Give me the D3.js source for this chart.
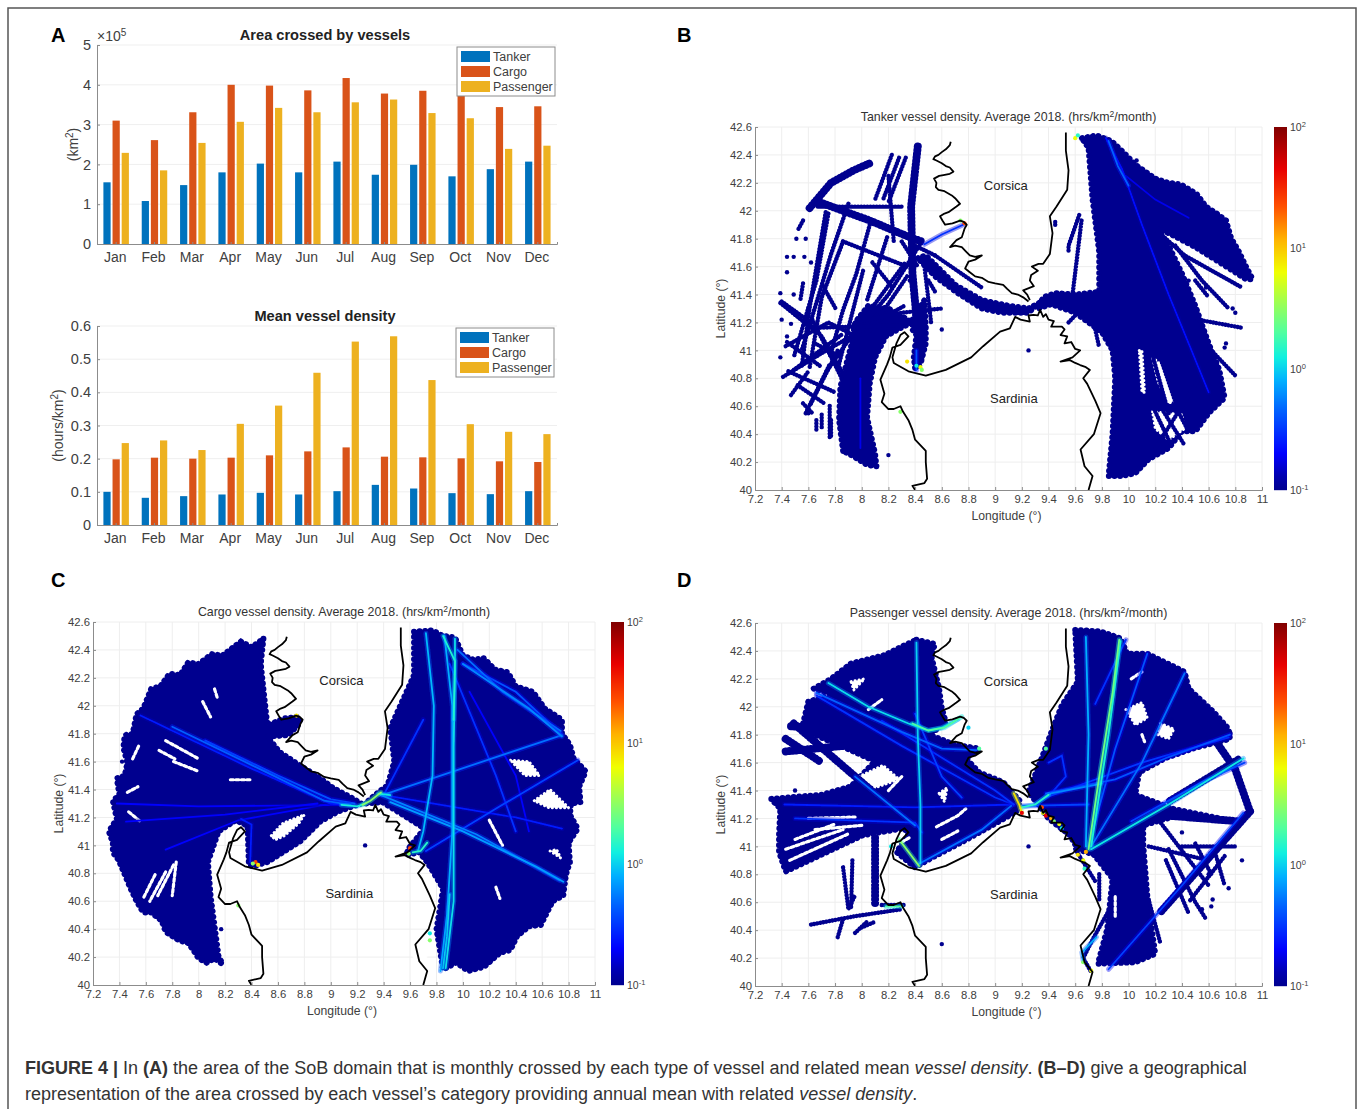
<!DOCTYPE html>
<html>
<head>
<meta charset="utf-8">
<script src="https://cdn.jsdelivr.net/npm/d3@7"></script>
<style>
  html, body { margin: 0; padding: 0; background: #fff; }
  svg { display: block; font-family: "Liberation Sans", sans-serif; }
  .axis path { stroke: #8c8c8c; fill: none; }
  .axis line { stroke: #8c8c8c; }
  .axis text { fill: #404040; stroke: none; }
</style>
</head>
<body>
<div id="vis"></div>
<script>
const FRAME_WIDTH = 1357;
const FRAME_HEIGHT = 1109;

// bar chart data
const MONTHS = ["Jan", "Feb", "Mar", "Apr", "May", "Jun", "Jul", "Aug", "Sep", "Oct", "Nov", "Dec"];
const SERIES = ["Tanker", "Cargo", "Passenger"];
const SERIES_COLORS = ["#0072BD", "#D95319", "#EDB120"];

const AREA_TANKER = [1.55, 1.08, 1.48, 1.80, 2.02, 1.80, 2.07, 1.74, 1.99, 1.70, 1.88, 2.07];
const AREA_CARGO = [3.10, 2.61, 3.31, 4.00, 3.98, 3.86, 4.17, 3.78, 3.85, 3.90, 3.44, 3.46];
const AREA_PASSENGER = [2.29, 1.85, 2.54, 3.07, 3.42, 3.31, 3.56, 3.63, 3.29, 3.16, 2.39, 2.47];

const DENSITY_TANKER = [0.100, 0.082, 0.087, 0.092, 0.097, 0.092, 0.102, 0.121, 0.110, 0.096, 0.093, 0.102];
const DENSITY_CARGO = [0.198, 0.203, 0.200, 0.203, 0.210, 0.222, 0.234, 0.206, 0.204, 0.201, 0.192, 0.190];
const DENSITY_PASSENGER = [0.247, 0.255, 0.226, 0.305, 0.360, 0.459, 0.553, 0.569, 0.437, 0.304, 0.281, 0.274];

const AREA_TICKS = [0, 1, 2, 3, 4, 5];
const DENSITY_TICKS = [0, 0.1, 0.2, 0.3, 0.4, 0.5, 0.6];

// map axes
const LON_TICKS = [7.2, 7.4, 7.6, 7.8, 8, 8.2, 8.4, 8.6, 8.8, 9, 9.2, 9.4, 9.6, 9.8, 10, 10.2, 10.4, 10.6, 10.8, 11];
const LAT_TICKS = [40, 40.2, 40.4, 40.6, 40.8, 41, 41.2, 41.4, 41.6, 41.8, 42, 42.2, 42.4, 42.6];
const COLORBAR_EXPONENTS = [-1, 0, 1, 2];
const JET_VALUES = [0.1, 0.13, 0.2, 0.45, 0.8, 1.25, 2, 3.6, 6.3, 12, 22, 45, 100];
const JET_COLORS = ["#00008f", "#0000b0", "#0000ff", "#0060ff", "#00b0ff", "#10f0e0", "#50ffa0", "#a0ff50", "#f0ff00", "#ffb000", "#ff5000", "#e80000", "#800000"];

// coastlines, lon/lat
const COAST_CORSICA_WEST = [[8.667,42.495],[8.66,42.47],[8.65,42.46],[8.63,42.44],[8.6,42.42],[8.575,42.4],[8.55,42.39],[8.537,42.37],[8.56,42.36],[8.6,42.34],[8.63,42.32],[8.66,42.31],[8.687,42.28],[8.66,42.265],[8.612,42.256],[8.58,42.25],[8.542,42.23],[8.56,42.2],[8.555,42.17],[8.575,42.15],[8.62,42.14],[8.675,42.11],[8.70,42.09],[8.737,42.05],[8.71,42.03],[8.65,41.99],[8.62,41.98],[8.587,41.96],[8.605,41.93],[8.625,41.9],[8.68,41.91],[8.737,41.93],[8.765,41.92],[8.787,41.9],[8.77,41.87],[8.75,41.81],[8.71,41.79],[8.662,41.74],[8.7,41.75],[8.75,41.74],[8.78,41.71],[8.81,41.68],[8.85,41.67],[8.9,41.68],[8.85,41.65],[8.8,41.635],[8.775,41.587],[8.81,41.56],[8.85,41.53],[8.9,41.52],[8.95,41.49],[9,41.48],[9.06,41.47],[9.09,41.44],[9.125,41.41],[9.17,41.4],[9.21,41.38],[9.25,41.35]];
const COAST_CORSICA_EAST = [[9.53,42.56],[9.53,42.43],[9.55,42.29],[9.54,42.15],[9.46,42.03],[9.41,41.96],[9.43,41.84],[9.41,41.69],[9.36,41.62],[9.325,41.62],[9.275,41.6],[9.32,41.57],[9.27,41.54],[9.26,41.5],[9.29,41.46],[9.21,41.43],[9.24,41.4],[9.26,41.36]];
const COAST_SARDINIA = [[8.4,40],[8.38,40.03],[8.47,40.05],[8.49,40.08],[8.48,40.2],[8.48,40.28],[8.4,40.36],[8.38,40.43],[8.35,40.5],[8.31,40.56],[8.29,40.6],[8.24,40.58],[8.2,40.58],[8.15,40.63],[8.17,40.69],[8.14,40.79],[8.19,40.9],[8.21,40.95],[8.23,41.02],[8.29,41.04],[8.35,41.1],[8.32,41.13],[8.29,41.11],[8.26,41.05],[8.23,40.95],[8.24,40.91],[8.35,40.85],[8.48,40.82],[8.63,40.86],[8.82,40.95],[8.91,41.03],[9.037,41.134],[9.11,41.158],[9.15,41.24],[9.19,41.22],[9.26,41.206],[9.25,41.25],[9.287,41.254],[9.32,41.25],[9.337,41.29],[9.36,41.24],[9.38,41.26],[9.4,41.22],[9.44,41.21],[9.42,41.17],[9.46,41.17],[9.5,41.17],[9.52,41.15],[9.49,41.11],[9.54,41.1],[9.52,41.05],[9.57,41.06],[9.6,41.01],[9.637,41],[9.58,40.95],[9.49,40.92],[9.56,40.93],[9.6,40.91],[9.637,40.895],[9.68,40.88],[9.71,40.86],[9.66,40.8],[9.69,40.76],[9.75,40.64],[9.79,40.55],[9.74,40.4],[9.64,40.29],[9.67,40.17],[9.73,40.1],[9.7,40]];
const COASTS = [COAST_CORSICA_WEST, COAST_CORSICA_EAST, COAST_SARDINIA];

// tanker map: filled areas, white gaps, tracks and brighter routes
const TANKER_AREAS = [
  [[9.65,42.52],[9.76,42.54],[9.87,42.5],[9.96,42.42],[10.05,42.33],[10.2,42.23],[10.3,42.2],[10.39,42.19],[10.51,42.12],[10.58,42.03],[10.66,41.98],[10.73,41.93],[10.77,41.8],[10.82,41.72],[10.88,41.6],[10.93,41.51],[10.88,41.51],[10.7,41.62],[10.5,41.74],[10.3,41.84],[10.22,41.87],[10.3,41.75],[10.4,41.55],[10.5,41.32],[10.6,41.05],[10.68,40.86],[10.72,40.66],[10.6,40.55],[10.5,40.42],[10.4,40.42],[10.3,40.3],[10.15,40.22],[10.05,40.12],[9.95,40.1],[9.85,40.1],[9.88,40.4],[9.9,40.8],[9.88,41],[9.8,41.13],[9.6,41.27],[9.42,41.33],[9.32,41.3],[9.36,41.38],[9.45,41.41],[9.6,41.4],[9.78,41.42],[9.78,41.7],[9.73,42.08],[9.7,42.45]],
  [[8.42,41.66],[8.48,41.68],[8.7,41.47],[8.9,41.36],[9.1,41.32],[9.25,41.3],[9.33,41.34],[9.25,41.27],[9.05,41.27],[8.9,41.3],[8.72,41.41],[8.55,41.53]],
  [[7.86,40.28],[7.83,40.5],[7.84,40.74],[7.92,41.03],[7.95,41.2],[8.05,41.32],[8.2,41.3],[8.38,41.2],[8.29,41.16],[8.18,41.1],[8.1,40.95],[8.06,40.76],[8.04,40.52],[8.1,40.26],[8.11,40.17],[8.04,40.18],[7.94,40.24]],
  [[8.38,41.22],[8.47,41.36],[8.48,41.17],[8.48,41.05],[8.44,40.9],[8.4,40.87],[8.39,40.95],[8.41,41.11],[8.38,41.15]]
];
const TANKER_GAPS = [
  [[10.08,41],[10.1,41],[10.12,40.7],[10.1,40.7]],
  [[10.18,40.95],[10.24,40.9],[10.34,40.64],[10.3,40.62],[10.22,40.78]],
  [[10.18,40.56],[10.4,40.54],[10.42,40.44],[10.3,40.36],[10.2,40.44]]
];
const TANKER_WIDE = [
  [[7.66,42.07],[8.06,41.93],[8.36,41.81],[8.45,41.78]],
  [[8.42,42.46],[8.37,42.03],[8.38,41.55],[8.44,40.93]],
  [[7.61,42.02],[7.77,42.2],[7.94,42.29],[8.06,42.34]]
];
const TANKER_TRACKS = [
  [[7.75,41.98],[7.66,41.5],[7.49,40.95]], [[7.9,42.05],[7.77,41.69],[7.66,41.34],[7.55,41]], [[8.06,41.9],[7.96,41.55],[7.86,41.29],[7.76,40.95]],
  [[8.225,42.4],[8.1,42.08]], [[8.28,42.38],[8.16,42.08]], [[8.33,42.38],[8.2,42.06]], [[8.19,41.81],[8.04,41.36]], [[8.34,41.53],[8.06,41.14]],
  [[7.86,41.78],[8.34,41.6]], [[7.71,41.46],[7.81,41.29]], [[7.4,41.35],[7.56,41.24],[7.7,41.1],[7.85,40.85]], [[7.56,41.93],[7.52,41.86]], [[7.56,41.48],[7.54,41.36]],
  [[8.32,41.62],[7.95,41.14],[7.73,40.84]], [[8.45,41.78],[8.2,41.4],[8,41.17]], [[7.41,40.81],[7.7,40.98],[8.32,41.32]], [[7.43,41.03],[7.75,41.2],[8,41.08]],
  [[7.62,40.62],[7.82,41]], [[7.52,40.75],[7.72,40.62]], [[7.58,40.55],[7.76,40.9]], [[7.76,40.38],[7.76,40.62]], [[7.7,40.45],[7.7,40.55]], [[7.47,40.68],[7.6,40.85]],
  [[7.67,42.03],[8.32,42.03]], [[7.95,41.2],[8.3,41.27],[8.6,41.3]], [[7.6,41.16],[8.3,41.18]], [[7.45,40.85],[7.8,40.7]], [[7.65,41.05],[7.85,40.95]], [[8.47,41.6],[8.52,41.2]],
  [[7.73,41.99],[7.61,41.31],[7.55,40.88]], [[7.86,41.78],[7.7,41.38],[7.61,40.88]], [[8.01,41.57],[7.83,40.9]], [[7.39,41.34],[7.61,41.17]], [[7.49,40.86],[7.86,41.12]], [[7.63,41.22],[7.85,40.8]],
  [[7.44,41.06],[7.7,40.88]], [[8.08,41.63],[8.24,41.44]], [[8.2,42.25],[8.24,41.78]], [[8.3,41.78],[8.42,41.6]], [[7.56,40.62],[7.63,40.55]], [[7.77,40.5],[7.77,40.37]], [[7.66,40.5],[7.66,40.42]],
  [[8.5,41.5],[8.55,41.42]], [[8.55,41.68],[8.9,41.45]], [[8.4,41.75],[8.55,41.68]], [[9.63,41.97],[9.55,41.75],[9.55,41.7]], [[9.58,41.4],[9.65,41.95]],
  [[9.55,41.2],[9.6,41.25]], [[9.75,41.15],[9.78,41.02]], [[10.52,41.22],[10.86,41.16]], [[10.22,41.85],[10.42,41.68],[10.85,41.45]], [[10.35,41.75],[10.55,41.5],[10.75,41.3]],
  [[10.5,41.5],[10.6,41.38]], [[10.62,41],[10.8,40.82]], [[10.6,40.9],[10.2,40.3]], [[10.18,40.6],[10.33,40.3]], [[10.25,40.58],[10.42,40.32]], [[10.35,40.6],[10.45,40.42]],
  [[10.22,41],[10.38,40.55]], [[10.17,41],[10.3,40.55]]
];
const TANKER_DOTS = [[7.44,41.67],[7.49,41.67],[7.57,41.67],[7.51,41.8],[7.44,41.56],[7.39,41.41],[7.49,41.4],[7.4,41.22],[7.47,41.19],[7.44,41.1],[7.62,41.63],[7.39,40.95],[7.6,41.3],[7.6,40.55],[7.58,41.8],[8.2,40.25],[8.36,41.5],[8.6,41.55],[8.6,41.15],[9.45,41.9],[9.45,41.92],[9.25,41],[10.06,42.36],[10.72,41.02],[10.73,41.05],[10.8,41.27],[10.78,41.3],[10.45,41.5],[10.58,41.45]];
const TANKER_ROUTES = [
  { density: 0.22, path: [[9.83,42.52],[9.95,42.3],[10.1,41.9],[10.3,41.4],[10.6,40.7]] },
  { density: 0.45, path: [[9.85,42.5],[9.92,42.32],[10,42.18]] },
  { density: 0.18, path: [[9.98,42.25],[10.2,42.08],[10.45,41.95]] },
  { density: 0.3, path: [[8.47,41.76],[8.6,41.83],[8.76,41.9]] },
  { density: 0.4, path: [[8.41,41],[8.41,40.86]] },
  { density: 0.18, path: [[7.99,40.8],[7.99,40.3]] }
];
const TANKER_SPOTS = [
  { density: 6, at: [8.44,40.88] }, { density: 1.2, at: [8.41,40.89] }, { density: 3, at: [8.45,40.86] }, { density: 25, at: [8.77,41.91] },
  { density: 3, at: [8.74,41.93] }, { density: 6, at: [9.6,42.52] }, { density: 1.5, at: [9.62,42.54] }, { density: 3, at: [8.29,40.56] }, { density: 8, at: [8.34,40.92] }
];

// cargo map
const CARGO_AREAS = [
  [[8.49,42.48],[8.47,42.3],[8.49,42.12],[8.52,41.86],[8.65,41.91],[8.75,41.92],[8.77,41.88],[8.68,41.79],[8.52,41.78],[8.61,41.67],[8.77,41.57],[8.89,41.5],[9.02,41.41],[9.16,41.34],[9.23,41.3],[9.05,41.24],[8.92,41.17],[8.77,41.03],[8.52,40.88],[8.41,40.85],[8.38,40.86],[8.37,41.14],[8.28,41.18],[8.15,41.1],[8.07,40.88],[8.09,40.64],[8.15,40.21],[8.18,40.15],[8.12,40.19],[8.06,40.16],[8,40.19],[7.96,40.25],[7.92,40.3],[7.85,40.32],[7.75,40.38],[7.72,40.46],[7.64,40.52],[7.58,40.52],[7.53,40.6],[7.48,40.7],[7.41,40.86],[7.39,40.9],[7.35,40.95],[7.35,41.02],[7.32,41.1],[7.38,41.19],[7.35,41.32],[7.4,41.36],[7.38,41.48],[7.44,41.5],[7.46,41.59],[7.43,41.7],[7.44,41.79],[7.5,41.8],[7.53,41.94],[7.58,41.98],[7.64,42.12],[7.71,42.14],[7.78,42.23],[7.86,42.22],[7.92,42.31],[8,42.3],[8.1,42.37],[8.18,42.36],[8.32,42.46],[8.4,42.42]],
  [[9.63,42.53],[9.77,42.54],[9.85,42.5],[9.94,42.49],[10,42.36],[10.08,42.33],[10.16,42.34],[10.24,42.26],[10.34,42.24],[10.4,42.14],[10.53,42.1],[10.62,41.98],[10.75,41.9],[10.75,41.8],[10.81,41.72],[10.84,41.62],[10.93,41.53],[10.88,41.42],[10.89,41.31],[10.82,41.3],[10.81,41.22],[10.87,41.12],[10.8,41.02],[10.81,40.88],[10.78,40.79],[10.76,40.64],[10.68,40.6],[10.59,40.43],[10.5,40.42],[10.41,40.35],[10.36,40.25],[10.28,40.23],[10.16,40.13],[10.04,40.1],[9.95,40.16],[9.85,40.11],[9.8,40.4],[9.85,40.69],[9.73,40.88],[9.67,40.95],[9.57,40.93],[9.59,40.98],[9.71,41.12],[9.51,41.24],[9.39,41.31],[9.26,41.3],[9.36,41.38],[9.43,41.43],[9.48,41.6],[9.45,41.84],[9.54,42.03],[9.63,42.22]]
];
const CARGO_GAPS = [
  [[8.55,41.07],[8.64,41.16],[8.8,41.22],[8.76,41.16],[8.65,41.07],[8.58,41.04]],
  [[10.36,41.61],[10.5,41.6],[10.58,41.5],[10.47,41.5]],
  [[10.54,41.32],[10.66,41.4],[10.8,41.27],[10.65,41.27]],
  [[10.66,40.96],[10.74,40.91],[10.71,40.97]],
  [[9.62,40.38],[9.7,40.32],[9.74,40.14],[9.67,40.1],[9.63,40.2]]
];
const CARGO_CUTS = [
  [[7.75,41.75],[8,41.62]], [[7.81,41.6],[8,41.53]], [[7.7,41.68],[7.82,41.62]], [[7.47,41.24],[7.56,41.17]], [[7.46,41.38],[7.54,41.42]], [[8.03,42.03],[8.09,41.92]], [[8.12,42.12],[8.14,42.06]],
  [[7.81,40.86],[7.69,40.64]], [[7.75,40.81],[7.63,40.6]], [[7.67,40.79],[7.58,40.62]], [[7.83,40.88],[7.8,40.64]], [[8.24,41.47],[8.4,41.47]], [[7.5,41.62],[7.55,41.72]], [[10.2,41.18],[10.3,41]], [[10.25,40.7],[10.28,40.62]]
];
const CARGO_DOTS = [[8.49,42.48],[7.42,41.6],[8.17,40.4],[9.83,40.4],[9.26,41]];
const CARGO_ROUTES = [
  { density: 0.25, path: [[7.56,41.93],[8.4,41.55],[9,41.3],[9.15,41.29]] },
  { density: 0.45, path: [[7.8,41.85],[8.5,41.53],[8.95,41.32],[9.15,41.29]] },
  { density: 0.4, path: [[8.05,41.75],[8.6,41.5],[9,41.33],[9.18,41.3]] },
  { density: 0.2, path: [[7.75,40.97],[8.3,41.18],[8.95,41.29],[9.15,41.29]] },
  { density: 0.2, path: [[7.38,41.3],[8,41.28],[9.15,41.29]] },
  { density: 0.2, path: [[7.45,41.17],[8.2,41.22],[8.9,41.3]] },
  { density: 0.25, path: [[8.32,41.19],[8.4,41.15],[8.39,40.88]] },
  { density: 0.5, path: [[9.39,41.36],[10.75,41.79]] },
  { density: 0.35, path: [[9.72,40.96],[10.28,41.28],[10.87,41.61]] },
  { density: 0.6, path: [[9.38,41.36],[10.1,41.08],[10.73,40.75]] },
  { density: 0.7, path: [[9.45,41.31],[10,41.1],[10.55,40.85],[10.76,40.74]] },
  { density: 0.3, path: [[9.4,41.36],[9.7,41.9]] },
  { density: 0.25, path: [[9.4,41.36],[10.4,41.2],[10.75,41.12]] },
  { density: 0.4, path: [[10,42.3],[10.4,42.1],[10.74,41.8]] },
  { density: 0.5, path: [[9.96,42.4],[10.3,42.1],[10.74,41.82]] },
  { density: 0.6, path: [[10,42.3],[10.5,41.98],[10.75,41.78]] },
  { density: 0.3, path: [[9.9,42.3],[10.25,41.5],[10.4,41.1]] },
  { density: 0.2, path: [[10.05,42.1],[10.4,41.5],[10.5,41.1]] },
  { density: 0.85, path: [[9.72,42.52],[9.78,42],[9.77,41.5],[9.7,41.1],[9.66,40.96]] },
  { density: 1.1, path: [[9.94,42.48],[9.94,42.25],[9.93,41.7],[9.93,41],[9.93,40.6],[9.87,40.12]] },
  { density: 1.4, path: [[9.85,42.5],[9.94,42.32],[9.93,41.9]] },
  { density: 0.8, path: [[9.86,42.5],[9.92,42],[9.92,41.1],[9.88,40.5],[9.83,40.1]] },
  { density: 1, path: [[9.9,40.65],[9.88,40.35],[9.85,40.12]] },
  { density: 1.3, path: [[9.08,41.29],[9.2,41.28],[9.26,41.3]] },
  { density: 3, path: [[9.24,41.29],[9.3,41.32],[9.38,41.38]] },
  { density: 1.2, path: [[9.36,41.37],[9.45,41.36]] },
  { density: 1.5, path: [[9.62,40.95],[9.68,40.96],[9.73,41.02]] }
];
const CARGO_SPOTS = [
  { density: 25, at: [8.43,40.88] }, { density: 8, at: [8.45,40.86] }, { density: 3, at: [8.41,40.87] }, { density: 8, at: [8.74,41.93] }, { density: 3, at: [8.3,40.57] },
  { density: 25, at: [9.6,40.98] }, { density: 3, at: [9.59,40.94] }, { density: 1.2, at: [9.75,40.37] }, { density: 3, at: [9.75,40.32] }
];

// passenger map
const PASSENGER_AREAS = [
  [[8.41,42.48],[8.55,42.45],[8.52,42.37],[8.58,42.13],[8.6,41.99],[8.63,41.89],[8.51,41.8],[8.69,41.73],[8.88,41.7],[8.78,41.63],[8.88,41.53],[9.06,41.46],[9.19,41.32],[9.16,41.25],[8.94,41.13],[8.75,41.03],[8.51,40.91],[8.4,40.85],[8.26,40.96],[8.35,41.08],[8.32,41.13],[8.01,41.08],[7.43,40.82],[7.38,40.96],[7.38,41.08],[7.39,41.27],[7.32,41.34],[7.7,41.37],[7.92,41.43],[8.1,41.61],[7.89,41.7],[7.55,41.84],[7.6,42.04],[7.8,42.08],[7.64,42.13],[7.77,42.2],[7.92,42.31],[8.17,42.37],[8.32,42.44]],
  [[9.6,42.55],[9.79,42.54],[9.94,42.49],[9.99,42.38],[10.14,42.38],[10.27,42.32],[10.42,42.25],[10.45,42.13],[10.64,41.96],[10.75,41.84],[10.76,41.77],[10.48,41.7],[10.27,41.63],[10.08,41.53],[10.05,41.37],[10.33,41.27],[10.79,41.18],[10.36,41.22],[10.11,41.15],[10.11,41.01],[10.14,40.65],[10.2,40.23],[10.05,40.17],[9.77,40.16],[9.84,40.41],[9.88,40.77],[9.74,40.94],[9.62,40.98],[9.56,41.08],[9.4,41.2],[9.25,41.39],[9.34,41.61],[9.43,41.84],[9.5,42.01],[9.62,42.18]]
];
const PASSENGER_GAPS = [
  [[8.58,41.38],[8.64,41.42],[8.62,41.32]], [[7.98,41.5],[8.16,41.58],[8.28,41.48],[8.1,41.42]],
  [[9.98,41.98],[10.1,42.03],[10.14,41.92],[10.05,41.87]], [[10.24,41.88],[10.34,41.84],[10.3,41.77],[10.22,41.8]], [[7.92,42.18],[8.02,42.2],[7.94,42.12]]
];
const PASSENGER_CUTS = [
  [[7.46,40.9],[7.9,41.09]], [[7.43,40.98],[7.86,41.12]], [[7.5,41.05],[7.8,41.16]], [[8.56,41.14],[8.72,41.22],[8.78,41.27]], [[8.6,41.05],[8.72,41.11]], [[8.3,41.03],[8.37,41.07]], [[7.6,41.2],[7.95,41.21]],
  [[7.65,41.12],[8,41.15]], [[8.3,41.5],[8.2,41.4]], [[10.1,41.8],[10.12,41.75]], [[10.02,42.2],[10.1,42.25]], [[9.9,40.5],[9.9,40.65]], [[8.05,41.98],[8.15,42.05]]
];
const PASSENGER_WIDE = [
  [[10.42,42.08],[10.8,41.55],[10.91,41.25]], [[10.91,41.25],[10.24,40.53]], [[10.75,41.81],[9.99,41.58],[9.4,41.39]], [[10.82,41.62],[10.3,41.32]],
  [[7.49,41.88],[8.23,41.27]], [[7.43,41.77],[7.7,41.6]], [[7.47,41.86],[7.97,41.83]], [[7.43,41.68],[7.97,41.73]], [[8.1,41.06],[8.1,40.58]], [[10.3,41.22],[10.82,41.18]]
];
const PASSENGER_TRACKS = [
  [[10.72,40.93],[10.45,40.6]], [[10.3,40.98],[10.5,40.6],[10.58,40.48]], [[10.4,41],[10.8,41]], [[10.15,41],[10.6,40.9]], [[10.28,40.9],[10.45,40.52]], [[10.65,40.95],[10.72,40.72]], [[10.2,41.22],[10.6,40.72]], [[10.15,40.62],[10.24,40.3]],
  [[7.93,40.9],[7.92,40.55]], [[7.86,40.85],[7.9,40.55],[7.95,40.65]], [[8.15,40.58],[8.32,40.58]], [[7.62,40.44],[7.95,40.5],[8.3,40.55]], [[7.82,40.35],[7.86,40.48]], [[7.95,40.38],[8.05,40.47]], [[8,40.42],[8.1,40.46]],
  [[9.84,40.52],[9.74,40.35],[9.66,40.2],[9.72,40.1]], [[9.78,40.8],[9.78,40.62]], [[9.6,40.98],[9.75,40.75]], [[10.5,41.02],[10.62,40.8]]
];
const PASSENGER_DOTS = [[7.5,41.4],[7.85,41.73],[8.6,40.3],[9.25,41],[10.85,40.9],[10.63,40.62],[10.62,40.57],[10.9,41.25],[10.4,41.1],[10.75,40.7],[10.55,40.55],[10.6,40.8]];
const PASSENGER_ROUTES = [
  { density: 1.1, path: [[7.75,42.17],[8.05,42],[8.35,41.88],[8.5,41.83],[8.6,41.85],[8.72,41.91]] },
  { density: 2, path: [[8.38,41.88],[8.5,41.83],[8.62,41.85],[8.75,41.93]] },
  { density: 0.45, path: [[7.66,42.1],[8.3,41.82],[8.6,41.7],[8.86,41.69]] },
  { density: 0.3, path: [[7.66,42.08],[8.3,41.72],[9,41.35],[9.14,41.3]] },
  { density: 0.3, path: [[8.15,41.9],[9,41.4],[9.14,41.3]] },
  { density: 1, path: [[8.41,42.46],[8.42,41.8],[8.44,41.3],[8.44,40.88]] },
  { density: 0.25, path: [[7.42,41.3],[8.4,41.28],[9.14,41.3]] },
  { density: 0.3, path: [[7.5,41.2],[8.4,41.17],[8.45,41.1]] },
  { density: 0.5, path: [[8.42,40.87],[8.9,41.12],[9.12,41.29]] },
  { density: 3, path: [[8.28,41.05],[8.43,40.86]] },
  { density: 0.5, path: [[7.95,41.5],[8.4,41.15]] },
  { density: 0.35, path: [[8.4,41.95],[8.6,41.5],[8.75,41.35]] },
  { density: 1.4, path: [[9.94,42.47],[9.85,41.8],[9.72,41]] },
  { density: 2.5, path: [[9.93,42.48],[9.88,42.1],[9.78,41.5],[9.7,40.98]] },
  { density: 0.8, path: [[9.68,42.5],[9.7,41.8],[9.68,41]] },
  { density: 0.4, path: [[10.14,42.38],[9.9,41.7],[9.7,41]] },
  { density: 0.5, path: [[10.42,42.24],[10.1,41.6],[9.72,41]] },
  { density: 0.32, path: [[9.38,41.35],[10.1,41.6],[10.75,41.78]] },
  { density: 0.4, path: [[9.38,41.38],[9.9,41.48],[10.3,41.64],[10.76,41.8]] },
  { density: 1.2, path: [[9.72,40.98],[10.3,41.3],[10.86,41.63]] },
  { density: 0.35, path: [[10.02,41.18],[10.55,41.46],[10.87,41.6]] },
  { density: 0.6, path: [[9.3,41.3],[9.42,41.38],[9.8,41.45]] },
  { density: 0.35, path: [[9.85,40.12],[10.4,40.72],[10.86,41.24]] },
  { density: 0.3, path: [[9.75,42.02],[9.98,42.48]] },
  { density: 0.3, path: [[9.4,41.6],[9.5,41.65],[9.53,41.5],[9.42,41.38]] },
  { density: 0.35, path: [[9.2,41.29],[9.7,41.3]] },
  { density: 8, path: [[9.14,41.38],[9.18,41.3],[9.2,41.24]] },
  { density: 1.5, path: [[9.2,41.28],[9.3,41.3],[9.4,41.37]] },
  { density: 2, path: [[8.18,40.57],[8.3,40.57]] },
  { density: 0.8, path: [[9.76,40.35],[9.65,40.24],[9.66,40.18]] }
];
const PASSENGER_SPOTS = [
  { density: 45, at: [9.2,41.24] }, { density: 25, at: [9.35,41.28] }, { density: 6, at: [9.36,41.24] }, { density: 45, at: [9.38,41.22] }, { density: 12, at: [9.42,41.2] }, { density: 3, at: [9.44,41.18] },
  { density: 6, at: [9.48,41.16] }, { density: 1.2, at: [9.5,41.13] }, { density: 8, at: [9.62,40.94] }, { density: 6, at: [9.66,40.9] }, { density: 12, at: [9.68,40.96] }, { density: 1.5, at: [9.67,40.84] },
  { density: 1.2, at: [8.22,41] }, { density: 1, at: [8.8,41.85] }, { density: 2, at: [8.88,41.7] }, { density: 2, at: [9.38,41.7] }, { density: 3, at: [9.66,40.17] }, { density: 6, at: [9.72,40.11] }
];

const MAP_W = 507;
const MAP_H = 363;

const SVG = d3.select("#vis").append("svg")
  .attr("width", FRAME_WIDTH)
  .attr("height", FRAME_HEIGHT);

// the source figure is a soft raster, the map marks get a light blur
SVG.append("defs").append("filter").attr("id", "soft")
  .attr("x", "-5%").attr("y", "-5%").attr("width", "110%").attr("height", "110%")
  .append("feGaussianBlur").attr("stdDeviation", 0.6);

const JET = d3.scaleLog().domain(JET_VALUES).range(JET_COLORS).clamp(true);

// frame
SVG.append("path")
  .attr("d", "M8,1109V8H1356V1109")
  .attr("fill", "none")
  .attr("stroke", "#555")
  .attr("stroke-width", 1.5);

function panelLetter(text, x, y) {
  SVG.append("text").attr("x", x).attr("y", y)
    .attr("font-size", 20).attr("font-weight", "bold").attr("fill", "#000").text(text);
}

// superscript label parts
function addParts(sel, parts) {
  parts.forEach(p => {
    sel.append("tspan")
      .attr("dy", p.up ? -p.up : (p.down || 0))
      .attr("font-size", p.size || null)
      .text(p.t);
  });
}

function barPanel(left, top, series, maxY, ticks, tickFormat, title, yParts, yLabelX, legendX, legendY) {
  const w = 460, h = 199;
  const g = SVG.append("g").attr("transform", "translate(" + left + "," + top + ")");
  const X = d3.scaleBand().domain(MONTHS).range([0, w]);
  const SUB = d3.scaleBand().domain(SERIES).range([6.4, 31.9]).paddingInner(0.21);
  const Y = d3.scaleLinear().domain([0, maxY]).range([h, 0]);

  g.append("g").selectAll("line").data(ticks.slice(1)).enter().append("line")
    .attr("x1", 0).attr("x2", w)
    .attr("y1", d => Y(d)).attr("y2", d => Y(d))
    .attr("stroke", "#efefef");

  SERIES.forEach((name, i) => {
    g.append("g").selectAll("rect").data(series[i]).enter().append("rect")
      .attr("x", (d, j) => X(MONTHS[j]) + SUB(name))
      .attr("y", d => Y(d))
      .attr("width", SUB.bandwidth())
      .attr("height", d => h - Y(d))
      .attr("fill", SERIES_COLORS[i]);
  });

  const xAxis = g.append("g").attr("class", "axis")
    .attr("transform", "translate(0," + h + ")")
    .call(d3.axisBottom(X).tickSize(-2).tickPadding(8));
  xAxis.selectAll("text").attr("font-size", 14).attr("dx", -1);
  xAxis.selectAll("line").attr("stroke", "#444");

  const yAxis = g.append("g").attr("class", "axis")
    .call(d3.axisLeft(Y).tickValues(ticks).tickFormat(tickFormat).tickSize(-3).tickPadding(6));
  yAxis.selectAll("text").attr("font-size", 14.5);

  g.append("text").attr("x", w / 2 - 2).attr("y", -5)
    .attr("text-anchor", "middle").attr("font-size", 14.6).attr("font-weight", "bold").attr("fill", "#222")
    .text(title);

  const yl = g.append("text")
    .attr("transform", "translate(" + yLabelX + "," + (h / 2) + ") rotate(-90)")
    .attr("text-anchor", "middle").attr("font-size", 14).attr("fill", "#404040");
  addParts(yl, yParts);

  // legend
  const lg = g.append("g").attr("transform", "translate(" + legendX + "," + legendY + ")");
  lg.append("rect").attr("width", 98).attr("height", 49)
    .attr("fill", "#fff").attr("stroke", "#8c8c8c").attr("stroke-width", 1);
  SERIES.forEach((name, i) => {
    lg.append("rect").attr("x", 4).attr("y", 4 + i * 15).attr("width", 29).attr("height", 11).attr("fill", SERIES_COLORS[i]);
    lg.append("text").attr("x", 36).attr("y", 14 + i * 15).attr("font-size", 12.5).attr("fill", "#404040").text(name);
  });
}

barPanel(97, 45, [AREA_TANKER, AREA_CARGO, AREA_PASSENGER], 5, AREA_TICKS, d3.format("d"),
  "Area crossed by vessels",
  [{ t: "(km" }, { t: "2", up: 5, size: 10 }, { t: ")", down: 5 }], -19, 360, 2);
barPanel(97, 326, [DENSITY_TANKER, DENSITY_CARGO, DENSITY_PASSENGER], 0.6, DENSITY_TICKS, d => d === 0 ? "0" : d3.format(".1f")(d),
  "Mean vessel density",
  [{ t: "(hours/km" }, { t: "2", up: 5, size: 10 }, { t: ")", down: 5 }], -34, 359, 2);

// x10^5 exponent
const EXPO = SVG.append("text").attr("x", 97).attr("y", 41).attr("font-size", 14).attr("fill", "#404040");
addParts(EXPO, [{ t: "×10" }, { t: "5", up: 5, size: 10 }]);

function mapPanel(cfg) {
  const width = cfg.width;
  const g = SVG.append("g").attr("transform", "translate(" + cfg.left + "," + cfg.top + ")");
  const X = d3.scaleLinear().domain([7.2, 11]).range([0, width]);
  const Y = d3.scaleLinear().domain([40, 42.6]).range([MAP_H, 0]);
  const LINE = d3.line().x(d => X(d[0])).y(d => Y(d[1]));

  // grid
  g.append("g").selectAll("line").data(LON_TICKS.slice(1)).enter().append("line")
    .attr("x1", d => X(d)).attr("x2", d => X(d)).attr("y1", 0).attr("y2", MAP_H).attr("stroke", "#eeeeee");
  g.append("g").selectAll("line").data(LAT_TICKS.slice(1)).enter().append("line")
    .attr("x1", 0).attr("x2", width).attr("y1", d => Y(d)).attr("y2", d => Y(d)).attr("stroke", "#eeeeee");

  const base = JET(0.1);
  const marks = g.append("g").attr("filter", "url(#soft)");

  marks.append("g").selectAll("path").data(cfg.areas).enter().append("path")
    .attr("d", d => LINE(d) + "Z").attr("fill", base).attr("stroke", base)
    .attr("stroke-width", 6).attr("stroke-linecap", "round").attr("stroke-dasharray", "0.1 5.5");
  marks.append("g").selectAll("path").data(cfg.gaps).enter().append("path")
    .attr("d", d => LINE(d) + "Z").attr("fill", "#fff").attr("stroke", "#fff")
    .attr("stroke-width", 3).attr("stroke-linecap", "round").attr("stroke-dasharray", "0.1 4");
  marks.append("g").selectAll("path").data(cfg.cuts).enter().append("path")
    .attr("d", LINE).attr("fill", "none").attr("stroke", "#fff")
    .attr("stroke-width", 3.2).attr("stroke-linecap", "round").attr("stroke-dasharray", "3 2.5");
  marks.append("g").selectAll("path").data(cfg.wide).enter().append("path")
    .attr("d", LINE).attr("fill", "none").attr("stroke", base)
    .attr("stroke-width", 8).attr("stroke-linecap", "round").attr("stroke-dasharray", "0.1 3.5");
  marks.append("g").selectAll("path").data(cfg.tracks).enter().append("path")
    .attr("d", LINE).attr("fill", "none").attr("stroke", base)
    .attr("stroke-width", 4.4).attr("stroke-linecap", "round").attr("stroke-dasharray", "0.1 3");
  marks.append("g").selectAll("circle").data(cfg.dots).enter().append("circle")
    .attr("cx", d => X(d[0])).attr("cy", d => Y(d[1])).attr("r", 2.2).attr("fill", base);

  cfg.routes.slice().sort((a, b) => a.density - b.density).forEach(r => {
    marks.append("path").attr("d", LINE(r.path)).attr("fill", "none")
      .attr("stroke", JET(r.density * 0.55)).attr("stroke-opacity", 0.4).attr("stroke-width", 5).attr("stroke-linecap", "round");
    marks.append("path").attr("d", LINE(r.path)).attr("fill", "none")
      .attr("stroke", JET(r.density)).attr("stroke-width", 1.8).attr("stroke-linecap", "round");
  });
  marks.append("g").selectAll("circle.spot").data(cfg.spots).enter().append("circle")
    .attr("class", "spot")
    .attr("cx", d => X(d.at[0])).attr("cy", d => Y(d.at[1])).attr("r", 2.1)
    .attr("fill", d => JET(d.density));

  // coast
  marks.append("g").selectAll("path").data(COASTS).enter().append("path")
    .attr("d", LINE).attr("fill", "none").attr("stroke", "#000").attr("stroke-width", 1.8).attr("stroke-linejoin", "round");

  // axes
  const xAxis = g.append("g").attr("class", "axis")
    .attr("transform", "translate(0," + MAP_H + ")")
    .call(d3.axisBottom(X).tickValues(LON_TICKS).tickFormat(d3.format("~g")).tickSize(-3).tickPadding(5));
  xAxis.selectAll("text").attr("font-size", 11.3);
  const yAxis = g.append("g").attr("class", "axis")
    .call(d3.axisLeft(Y).tickValues(LAT_TICKS).tickFormat(d3.format("~g")).tickSize(-3).tickPadding(3));
  yAxis.selectAll("text").attr("font-size", 11.3);

  g.append("text").attr("x", width / 2 - 2).attr("y", MAP_H + 30).attr("text-anchor", "middle")
    .attr("font-size", 12.2).attr("fill", "#404040").text("Longitude (°)");
  g.append("text").attr("transform", "translate(-30," + (MAP_H / 2) + ") rotate(-90)").attr("text-anchor", "middle")
    .attr("font-size", 12.2).attr("fill", "#404040").text("Latitude (°)");

  const t = g.append("text").attr("x", width / 2).attr("y", -6).attr("text-anchor", "middle")
    .attr("font-size", 12.4).attr("fill", "#333");
  addParts(t, [{ t: cfg.title + " (hrs/km" }, { t: "2", up: 4, size: 8.5 }, { t: "/month)", down: 4 }]);

  g.append("g").selectAll("text.place").data(PLACES).enter().append("text")
    .attr("class", "place")
    .attr("x", d => X(d.at[0])).attr("y", d => Y(d.at[1]))
    .attr("text-anchor", "middle").attr("font-size", 13).attr("fill", "#222").text(d => d.name);

  // colorbar
  const cbW = 13;
  const CB = d3.scaleLog().domain([0.1, 100]).range([MAP_H, 0]);
  const cb = g.append("g").attr("transform", "translate(" + cfg.colorbarX + ",0)");
  cb.append("g").selectAll("rect").data(d3.range(0, MAP_H)).enter().append("rect")
    .attr("x", 0).attr("y", d => d).attr("width", cbW).attr("height", 1.2)
    .attr("fill", d => JET(CB.invert(d + 0.5)));
  COLORBAR_EXPONENTS.forEach(e => {
    const lab = cb.append("text").attr("x", cbW + 3).attr("y", CB(Math.pow(10, e)) + 4)
      .attr("font-size", 10.5).attr("fill", "#404040");
    addParts(lab, [{ t: "10" }, { t: String(e), up: 4, size: 7.5 }]);
  });
}

const PLACES = [{ name: "Corsica", at: [9.08, 42.15] }, { name: "Sardinia", at: [9.14, 40.62] }];

mapPanel({ left: 755, top: 127, width: MAP_W, colorbarX: 519, title: "Tanker vessel density. Average 2018.",
  areas: TANKER_AREAS, gaps: TANKER_GAPS, cuts: [], wide: TANKER_WIDE, tracks: TANKER_TRACKS, dots: TANKER_DOTS, routes: TANKER_ROUTES, spots: TANKER_SPOTS });
mapPanel({ left: 93, top: 622, width: 502, colorbarX: 518, title: "Cargo vessel density. Average 2018.",
  areas: CARGO_AREAS, gaps: CARGO_GAPS, cuts: CARGO_CUTS, wide: [], tracks: [], dots: CARGO_DOTS, routes: CARGO_ROUTES, spots: CARGO_SPOTS });
mapPanel({ left: 755, top: 623, width: MAP_W, colorbarX: 519, title: "Passenger vessel density. Average 2018.",
  areas: PASSENGER_AREAS, gaps: PASSENGER_GAPS, cuts: PASSENGER_CUTS, wide: PASSENGER_WIDE, tracks: PASSENGER_TRACKS, dots: PASSENGER_DOTS, routes: PASSENGER_ROUTES, spots: PASSENGER_SPOTS });

panelLetter("A", 51, 42);
panelLetter("B", 677, 42);
panelLetter("C", 51, 587);
panelLetter("D", 677, 587);

// caption
const CAP1 = SVG.append("text").attr("x", 25).attr("y", 1074).attr("font-size", 18).attr("fill", "#333");
[["FIGURE 4 |", "bold"], [" In ", ""], ["(A)", "bold"], [" the area of the SoB domain that is monthly crossed by each type of vessel and related mean ", ""], ["vessel density", "italic"], [". ", ""], ["(B–D)", "bold"], [" give a geographical", ""]].forEach(p => {
  CAP1.append("tspan").attr("font-weight", p[1] === "bold" ? "bold" : null).attr("font-style", p[1] === "italic" ? "italic" : null).text(p[0]);
});
const CAP2 = SVG.append("text").attr("x", 25).attr("y", 1100).attr("font-size", 18).attr("fill", "#333");
[["representation of the area crossed by each vessel’s category providing annual mean with related ", ""], ["vessel density", "italic"], [".", ""]].forEach(p => {
  CAP2.append("tspan").attr("font-style", p[1] === "italic" ? "italic" : null).text(p[0]);
});
</script>
</body>
</html>
